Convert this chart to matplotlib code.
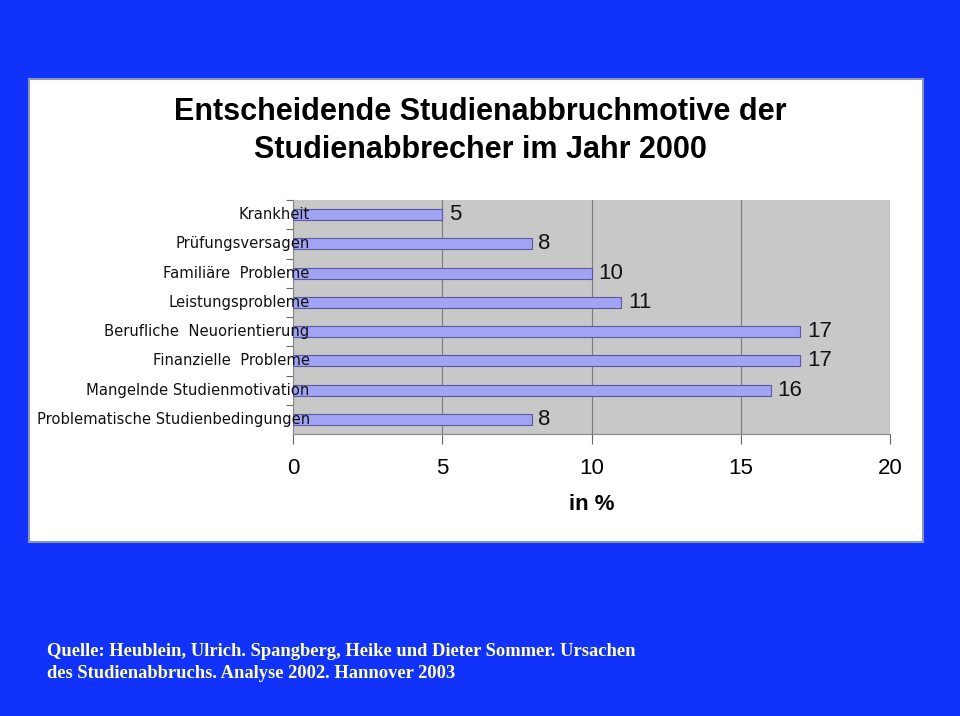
import matplotlib.pyplot as plt
from matplotlib.patches import Rectangle

categories = [
    "Krankheit",
    "Prüfungsversagen",
    "Familiäre  Probleme",
    "Leistungsprobleme",
    "Berufliche  Neuorientierung",
    "Finanzielle  Probleme",
    "Mangelnde Studienmotivation",
    "Problematische Studienbedingungen",
]
values = [5, 8, 10, 11, 17, 17, 16, 8]
x_ticks = [0, 5, 10, 15, 20]

W, H = 960, 716
fig = plt.figure(figsize=(W / 100, H / 100), dpi=100)
fig.patch.set_facecolor("#1032fb")

# white panel behind the chart
fig.patches.append(Rectangle((29 / W, 1 - 542 / H), (923 - 29) / W, (542 - 79) / H,
                             transform=fig.transFigure, facecolor="white",
                             edgecolor="#8a96b8", linewidth=1.5, zorder=-5))

ax = fig.add_axes([293 / W, 1 - 434 / H, (890 - 293) / W, (434 - 200) / H])
ax.set_zorder(2)
ax.set_facecolor("#c8c8c8")

ypos = list(range(len(categories)))
ax.barh(ypos, values, height=0.38, color="#a3a3f5", edgecolor="#5a5aa0",
        linewidth=0.8, zorder=3)
for y, v in zip(ypos, values):
    ax.text(v + 0.22, y, str(v), va="center", ha="left", fontsize=16,
            family="Liberation Sans", color="#111111", zorder=4)

ax.set_xlim(0, 20)
ax.set_ylim(len(categories) - 0.5, -0.5)
ax.set_xticks(x_ticks)
ax.set_xticklabels([str(t) for t in x_ticks], fontsize=16, family="Liberation Sans")
ax.tick_params(axis="x", length=7, width=0.8, color="#666666", pad=10)
ax.xaxis.grid(True, color="#7a7a7a", linewidth=0.8, zorder=1)
ax.set_axisbelow(True)

# category ticks between bars, labels drawn separately
ax.set_yticks([y + 0.5 for y in ypos[:-1]] + [-0.5])
ax.set_yticklabels([])
ax.tick_params(axis="y", length=5, width=0.8, color="#666666")
for y, c in zip(ypos, categories):
    ax.annotate(c, xy=(0, y), xycoords=("axes fraction", "data"),
                xytext=(12, 0), textcoords="offset points",
                ha="right", va="center", fontsize=10.6, family="DejaVu Sans",
                color="#111111", zorder=5, annotation_clip=False)

for s in ["top", "right"]:
    ax.spines[s].set_visible(False)
ax.spines["left"].set_color("#888888")
ax.spines["bottom"].set_color("#888888")

ax.set_xlabel("in %", fontsize=16, fontweight="bold", family="Liberation Sans",
              labelpad=11)

fig.text(480 / W, 1 - 112 / H, "Entscheidende Studienabbruchmotive der",
         ha="center", va="center", fontsize=22, fontweight="bold",
         family="Liberation Sans", color="black")
fig.text(480 / W, 1 - 150 / H, "Studienabbrecher im Jahr 2000",
         ha="center", va="center", fontsize=22, fontweight="bold",
         family="Liberation Sans", color="black")

fig.text(47 / W, 1 - 652 / H,
         "Quelle: Heublein, Ulrich. Spangberg, Heike und Dieter Sommer. Ursachen",
         ha="left", va="center", fontsize=13.3, fontweight="bold",
         family="Liberation Serif", color="#ffffb8")
fig.text(47 / W, 1 - 674 / H,
         "des Studienabbruchs. Analyse 2002. Hannover 2003",
         ha="left", va="center", fontsize=13.3, fontweight="bold",
         family="Liberation Serif", color="#ffffb8")

fig.savefig("out.png", dpi=100, facecolor=fig.get_facecolor())
